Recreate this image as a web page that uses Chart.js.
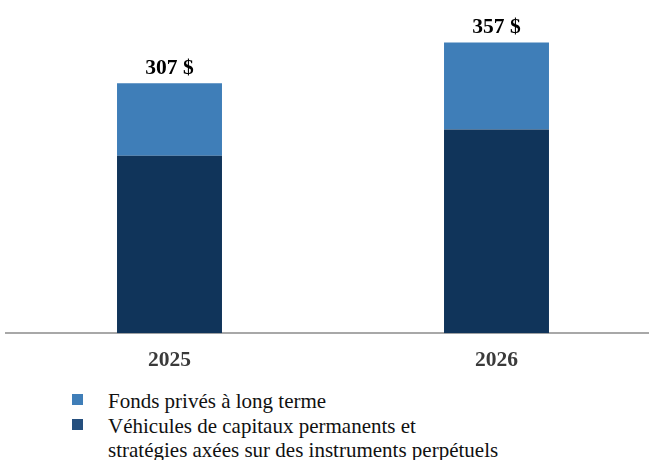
<!DOCTYPE html>
<html>
<head>
<meta charset="utf-8">
<script src="https://cdn.jsdelivr.net/npm/chart.js@4"></script>
<style>
  html, body { margin: 0; padding: 0; background: #fff; width: 649px; height: 460px; overflow: hidden; }
  #wrap { position: absolute; left: 0; top: 0; width: 660px; height: 387px; }
  #legend { position: absolute; left: 72px; top: 389px; font-family: "Times New Roman", "Liberation Serif", "DejaVu Serif", serif; font-size: 21px; color: #111; line-height: 24.5px; }
  .item { position: relative; padding-left: 36px; }
  .sw { position: absolute; left: 0; top: 5px; width: 11px; height: 11px; }
</style>
</head>
<body>
<div id="wrap"><canvas id="c" width="660" height="387"></canvas></div>
<div id="legend"></div>
<script>
const categories = ["2025", "2026"];
const seriesNames = ["Fonds privés à long terme", "Véhicules de capitaux permanents et stratégies axées sur des instruments perpétuels"];
const permanentValues = [218, 250];
const privateFundValues = [89, 107];
const totalLabels = ["307 $", "357 $"];

const lightBlue = "#3F7EB8";
const darkBlue = "#10345A";
const serifFont = "'Times New Roman', 'Liberation Serif', 'DejaVu Serif', serif";

const topLabels = {
  id: "topLabels",
  afterDatasetsDraw(chart) {
    const ctx = chart.ctx;
    const meta = chart.getDatasetMeta(1);
    ctx.save();
    ctx.font = "bold 21.5px " + serifFont;
    ctx.fillStyle = "#000";
    ctx.textAlign = "center";
    ctx.textBaseline = "middle";
    meta.data.forEach((bar, i) => {
      ctx.fillText(totalLabels[i], bar.x, bar.y - 15);
    });
    ctx.restore();
  }
};

new Chart(document.getElementById("c"), {
  type: "bar",
  data: {
    labels: categories,
    datasets: [
      { label: seriesNames[1], data: permanentValues, backgroundColor: darkBlue, categoryPercentage: 1, barPercentage: 0.321 },
      { label: seriesNames[0], data: privateFundValues, backgroundColor: lightBlue, categoryPercentage: 1, barPercentage: 0.321 }
    ]
  },
  options: {
    responsive: false,
    animation: false,
    events: [],
    layout: { padding: { left: 6, top: 40, right: 0, bottom: 0 } },
    plugins: { legend: { display: false }, tooltip: { enabled: false } },
    scales: {
      x: {
        stacked: true,
        grid: { display: false, drawTicks: false },
        border: { display: true, color: "#A8A8A8", width: 2 },
        ticks: { padding: 14, color: "#3a3a3a", font: { family: serifFont, size: 21.5, weight: "bold" } }
      },
      y: {
        stacked: true,
        display: false,
        min: 0,
        max: 360
      }
    }
  },
  plugins: [topLabels]
});

const legend = document.getElementById("legend");
const legendRows = [
  { color: lightBlue, lines: [seriesNames[0]] },
  { color: "#254F7E", lines: ["Véhicules de capitaux permanents et", "stratégies axées sur des instruments perpétuels"] }
];
legendRows.forEach(row => {
  const d = document.createElement("div");
  d.className = "item";
  const sw = document.createElement("span");
  sw.className = "sw";
  sw.style.background = row.color;
  d.appendChild(sw);
  row.lines.forEach(line => {
    const l = document.createElement("div");
    l.style.whiteSpace = "nowrap";
    l.textContent = line;
    d.appendChild(l);
  });
  legend.appendChild(d);
});
</script>
</body>
</html>
